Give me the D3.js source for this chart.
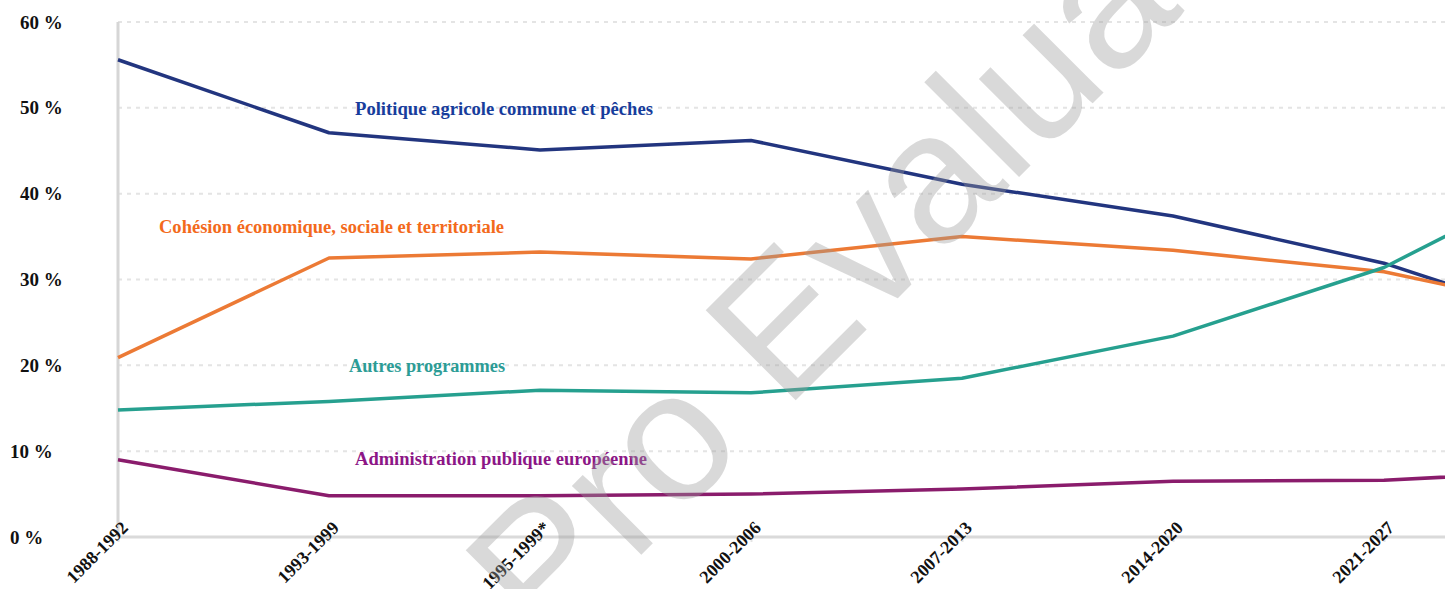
<!DOCTYPE html>
<html lang="fr">
  <head>
    <meta charset="utf-8"/>
    <script src="https://d3js.org/d3.v7.min.js"></script>
    <title>Répartition du budget de l'UE</title>
    <style>
      body { margin: 0; background: #fff; }
      svg { display: block; }
    </style>
  </head>
  <body>
    <svg id="svg_main"></svg>

    <script>
      const graph_width = 1445;
      const graph_height = 589;

      // périodes (la dernière sort du cadre, seul le début du segment est visible)
      const periods = ["1988-1992", "1993-1999", "1995-1999*", "2000-2006", "2007-2013", "2014-2020", "2021-2027", "2028-2034"];

      const pac      = [55.6, 47.1, 45.1, 46.2, 41.1, 37.4, 31.9, 23.9];
      const cohesion = [20.9, 32.5, 33.2, 32.4, 35.0, 33.4, 30.9, 25.7];
      const autres   = [14.8, 15.8, 17.1, 16.8, 18.5, 23.4, 31.4, 43.9];
      const admin    = [9.0, 4.8, 4.8, 5.0, 5.6, 6.5, 6.6, 7.9];

      const yTicks = [0, 10, 20, 30, 40, 50, 60];

      const seriesNames = ["Politique agricole commune et pêches",
                           "Cohésion économique, sociale et territoriale",
                           "Autres programmes",
                           "Administration publique européenne"];

      const series = [
        {name: seriesNames[0], values: pac,      line: "#22357f", label: "#173d9c"},
        {name: seriesNames[1], values: cohesion, line: "#ec7a35", label: "#f36a1c"},
        {name: seriesNames[2], values: autres,   line: "#26a08f", label: "#2c9c96"},
        {name: seriesNames[3], values: admin,    line: "#8a1c6c", label: "#8c1686"}
      ];

      const x0 = 118;
      const step = 211;

      let xScale = d3.scalePoint()
          .domain(periods)
          .range([x0, x0 + step * (periods.length - 1)]);

      let yScale = d3.scaleLinear()
          .domain([0, 60])
          .range([537, 22]);

      let svg = d3.select("#svg_main")
          .attr("width", graph_width)
          .attr("height", graph_height)
          .style("font-family", "'Liberation Serif', 'Times New Roman', serif")
          .style("font-weight", "bold");

      svg.append("rect")
          .attr("width", graph_width)
          .attr("height", graph_height)
          .attr("fill", "#fff");

      // grille pointillée
      svg.append("g")
          .selectAll("line")
          .data(yTicks.filter(d => d > 0))
          .join("line")
          .attr("x1", x0)
          .attr("x2", graph_width)
          .attr("y1", d => yScale(d))
          .attr("y2", d => yScale(d))
          .attr("stroke", "#e4e4e4")
          .attr("stroke-width", 2)
          .attr("stroke-dasharray", "4 5");

      // axe vertical
      svg.append("line")
          .attr("x1", x0).attr("x2", x0)
          .attr("y1", yScale(60)).attr("y2", yScale(0))
          .attr("stroke", "#d6d6d6")
          .attr("stroke-width", 3);

      // libellés de l'axe Y
      svg.append("g")
          .selectAll("text")
          .data(yTicks)
          .join("text")
          .attr("x", d => d >= 20 ? 20 : 10)
          .attr("y", d => yScale(d))
          .attr("dy", "0.35em")
          .attr("font-size", 19)
          .attr("fill", "#111")
          .text(d => d + " %");

      // axe X
      let xAxis = d3.axisBottom(xScale).tickSize(5).tickFormat("");
      let xAxis_g = svg.append("g")
          .attr("transform", "translate(0," + yScale(0) + ")")
          .call(xAxis);
      xAxis_g.select(".domain")
          .attr("d", "M" + x0 + ",0H" + graph_width)
          .attr("stroke", "#dadada")
          .attr("stroke-width", 3);
      xAxis_g.selectAll(".tick line")
          .attr("stroke", "#e4e4e4")
          .attr("stroke-width", 2);

      svg.append("g")
          .selectAll("text")
          .data(periods)
          .join("text")
          .attr("transform", d => "translate(" + (xScale(d) + 11) + "," + 529 + ") rotate(-45)")
          .attr("text-anchor", "end")
          .attr("font-size", 18)
          .attr("fill", "#111")
          .text(d => d);

      // courbes
      let line = d3.line()
          .x((d, i) => xScale(periods[i]))
          .y(d => yScale(d));

      svg.append("g")
          .selectAll("path")
          .data(series)
          .join("path")
          .attr("fill", "none")
          .attr("stroke", d => d.line)
          .attr("stroke-width", 3.5)
          .attr("stroke-linejoin", "round")
          .attr("d", d => line(d.values));

      // étiquettes des séries
      const labelPos = [
        {x: 355, y: 115, w: 298},
        {x: 159, y: 233, w: 345},
        {x: 349, y: 372, w: 156},
        {x: 355, y: 465, w: 292}
      ];

      svg.append("g")
          .selectAll("text")
          .data(series)
          .join("text")
          .attr("x", (d, i) => labelPos[i].x)
          .attr("y", (d, i) => labelPos[i].y)
          .attr("font-size", 18)
          .attr("textLength", (d, i) => labelPos[i].w)
          .attr("lengthAdjust", "spacingAndGlyphs")
          .attr("fill", d => d.label)
          .text(d => d.name);

      // filigrane
      svg.append("text")
          .attr("transform", "translate(545,651) rotate(-45)")
          .attr("font-family", "'Liberation Sans', Arial, sans-serif")
          .attr("font-weight", "normal")
          .attr("font-size", 185)
          .attr("fill", "#9a9a9a")
          .attr("fill-opacity", 0.38)
          .text("Pro Evaluation");
    </script>
  </body>
</html>
